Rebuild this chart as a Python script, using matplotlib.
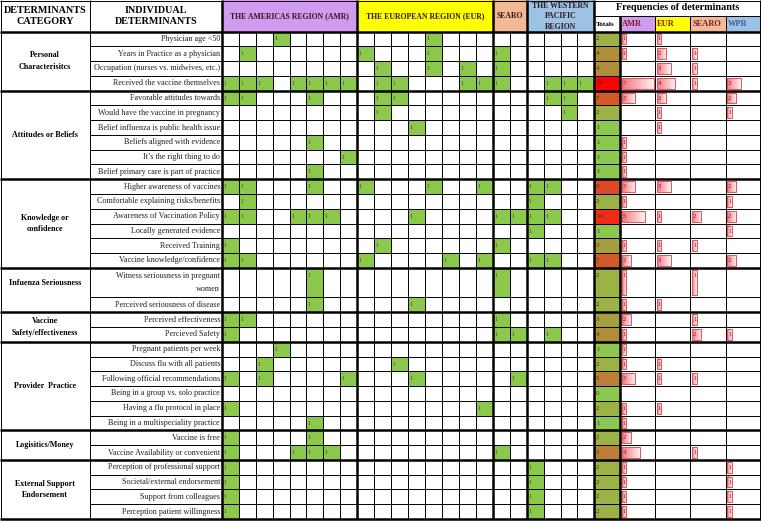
import numpy as np
import matplotlib.pyplot as plt
from matplotlib.patches import Rectangle
from matplotlib.colors import LinearSegmentedColormap

plt.rcParams['font.family'] = ['Liberation Serif', 'DejaVu Serif']

# categories and their row counts
categories = ["Personal\nCharacterisitcs", "Attitudes or Beliefs", "Knowledge or\nconfidence",
              "Infuenza Seriousness", "Vaccine\nSafety/effectiveness", "Provider  Practice",
              "Logisitics/Money", "External Support\nEndorsement"]
category_sizes = [4, 6, 6, 2, 2, 6, 2, 4]

determinants = [
    "Physician age <50", "Years in Practice as a physician", "Occupation (nurses vs. midwives, etc.)",
    "Received the vaccine themselves",
    "Favorable attitudes towards", "Would have the vaccine in pregnancy", "Belief influenza is public health issue",
    "Beliefs aligned with evidence", "It\u2019s the right thing to do", "Belief primary care is part of practice",
    "Higher awareness of vaccines", "Comfortable explaining risks/benefits", "Awareness of Vaccination Policy",
    "Locally generated evidence", "Received Training", "Vaccine knowledge/confidence",
    "Witness seriousness in pregnant\nwomen", "Perceived seriousness of disease",
    "Perceived effectiveness", "Percieved Safety",
    "Pregnant patients per week", "Discuss flu with all patients", "Following official recommendations",
    "Being in a group vs. solo practice", "Having a flu protocol in place", "Being in a multispeciality practice",
    "Vaccine is free", "Vaccine Availability or convenient",
    "Perception of professional support", "Societal/external endorsement", "Support from colleagues",
    "Perception patient willingness",
]
row_units = [1] * 16 + [2] + [1] * 15

# studies (columns, 1-based within each region) reporting each determinant
amr_hits = [[4], [2], [], [1, 2, 3, 5, 6, 7, 8],
            [1, 2, 6], [], [], [6], [8], [6],
            [1, 2, 6], [2], [1, 2, 5, 6, 7], [], [1], [1, 2],
            [6], [6], [1, 2], [1],
            [4], [3], [1, 3, 8], [], [1], [6],
            [1, 6], [1, 5, 6, 7],
            [1], [1], [1], [1]]
eur_hits = [[5], [1, 5], [2, 5, 7], [2, 3, 7, 8],
            [2, 3], [2], [4], [], [], [],
            [1, 5, 8], [], [4], [], [2], [1, 6, 8],
            [], [4], [], [],
            [], [3], [4], [], [8], [],
            [], [],
            [], [], [], []]
searo_hits = [[], [1], [1], [1],
              [], [], [], [], [], [],
              [], [], [1, 2], [], [1], [],
              [1], [], [1], [1, 2],
              [], [], [2], [], [], [],
              [], [1],
              [], [], [], []]
wpr_hits = [[], [], [], [2, 3, 4],
            [2, 3], [3], [], [], [], [],
            [1, 2], [1], [1, 2], [1], [], [1, 2],
            [], [], [], [2],
            [], [], [], [], [], [],
            [], [],
            [1], [1], [1], [1]]

regions = ["AMR", "EUR", "SEARO", "WPR"]
region_titles = ["THE AMERICAS REGION (AMR)", "THE EUROPEAN REGION (EUR)", "SEARO",
                 "THE WESTERN\nPACIFIC\nREGION"]
region_cols = [8, 8, 2, 4]
region_colors = ["#D19BEF", "#FFFF00", "#F3B894", "#9CC2E5"]
region_text = ["#7A1F2B", "#7A1F2B", "#7A1F2B", "#3F5F9A"]
all_hits = [amr_hits, eur_hits, searo_hits, wpr_hits]

freq = np.array([[len(h[i]) for h in all_hits] for i in range(len(determinants))])
totals = freq.sum(axis=1)

# layout (pixels)
W, H = 761, 523
x_cat, x_ind, x_grid = 0, 90, 222
region_edges = [222, 357, 493, 527, 594]
x_tot, x_freq = 594, 620
freq_w = 35.2
head_h, body_bottom = 31.5, 519
unit = (body_bottom - head_h) / sum(row_units)
row_edges = head_h + np.concatenate([[0], np.cumsum(row_units)]) * unit

fig = plt.figure(figsize=(W / 100, H / 100), dpi=100)
ax = fig.add_axes([0, 0, 1, 1])
ax.set_xlim(0, W)
ax.set_ylim(H, 0)
ax.axis('off')

green = "#8CC84B"
tot_cmap = LinearSegmentedColormap.from_list(
    "tot", [(0, "#8CC850"), (1 / 14, "#9CB247"), (3 / 14, "#B08C38"), (4 / 14, "#BA7E36"),
            (6 / 14, "#D25A28"), (9 / 14, "#F02D18"), (1, "#FF0000")])
bar_cmap = LinearSegmentedColormap.from_list("bar", ["#F47880", "#FFF4F4"])
grad = np.linspace(0, 1, 64).reshape(1, -1)

# header cells
ax.text(45, 16, "DETERMINANTS\nCATEGORY", ha='center', va='center', fontsize=7.3,
        fontweight='bold', linespacing=1.15)
ax.text(156, 16, "INDIVIDUAL\nDETERMINANTS", ha='center', va='center', fontsize=7.3,
        fontweight='bold', linespacing=1.15)
for r in range(4):
    x0, x1 = region_edges[r], region_edges[r + 1]
    ax.add_patch(Rectangle((x0, 0), x1 - x0, head_h, color=region_colors[r], lw=0))
    if r < 3:
        ax.text((x0 + x1) / 2, 16.5, region_titles[r], ha='center', va='center',
                fontsize=5.6, fontweight='bold', color="#3A1A1A")
    else:
        ax.text((x0 + x1) / 2, 1.5, region_titles[r], ha='center', va='top',
                fontsize=5.6, fontweight='bold', color="#3A1A1A", linespacing=1.45,
                clip_on=True)
ax.text((x_tot + W) / 2, 8, "Frequencies of determinants", ha='center', va='center',
        fontsize=7.3, fontweight='bold')
ax.text(x_tot + 2, 24, "Totals", ha='left', va='center', fontsize=5.3, fontweight='bold')
for r in range(4):
    fx = x_freq + r * freq_w
    ax.add_patch(Rectangle((fx, 16), freq_w, head_h - 16, color=region_colors[r], lw=0))
    ax.text(fx + 2, 24, regions[r], ha='left', va='center', fontsize=6,
            fontweight='bold', color=region_text[r])

# body
for i, name in enumerate(determinants):
    y0, y1 = row_edges[i], row_edges[i + 1]
    yc = (y0 + y1) / 2
    ax.text(x_grid - 2, yc, name, ha='right', va='center', fontsize=5.9, linespacing=1.9,
            color="#222222")
    for r in range(4):
        x0, x1 = region_edges[r], region_edges[r + 1]
        cw = (x1 - x0) / region_cols[r]
        for c in all_hits[r][i]:
            cx = x0 + (c - 1) * cw
            ax.add_patch(Rectangle((cx, y0), cw, y1 - y0, color=green, lw=0))
            ax.text(cx + 1.5, y0 + 7.5, "1", ha='left', va='center', fontsize=4.6,
                    color="#4A4A30")
    ax.add_patch(Rectangle((x_tot, y0), x_freq - x_tot, y1 - y0,
                           color=tot_cmap((totals[i] - 1) / 14 if totals[i] > 0 else 0), lw=0))
    ax.text(x_tot + 2, y0 + 7.5, str(totals[i]), ha='left', va='center', fontsize=5,
            color="#3A3A10")
    for r in range(4):
        v = freq[i, r]
        if v == 0:
            continue
        bx = x_freq + r * freq_w + 1.5
        bw = v * 4.6
        ax.imshow(grad, cmap=bar_cmap, extent=(bx, bx + bw, y1 - 2, y0 + 2), aspect='auto',
                  interpolation='bilinear', zorder=2)
        ax.add_patch(Rectangle((bx, y0 + 2), bw, y1 - y0 - 4, fill=False,
                               edgecolor="#E2535F", lw=0.7, zorder=3))
        ax.text(bx + 1, y0 + 7.5, str(v), ha='left', va='center', fontsize=4.8,
                color="#8A1A1A", zorder=4)

# category labels
cat_edges = np.concatenate([[0], np.cumsum(category_sizes)])
for k, cat in enumerate(categories):
    y0, y1 = row_edges[cat_edges[k]], row_edges[cat_edges[k + 1]]
    yc = (y0 + y1) / 2
    if row_units[cat_edges[k]] > 1:
        yc = (y0 + row_edges[cat_edges[k] + 1]) / 2
    ax.text(45, yc, cat, ha='center', va='center', fontsize=5.8,
            fontweight='bold', linespacing=1.55)

# grid lines
thin, thick = 0.7, 1.8
cat_rows = set(cat_edges.tolist())
for j, y in enumerate(row_edges):
    if j in cat_rows:
        ax.hlines(y, 0, W - 0.5, colors='black', lw=thick, zorder=5)
    else:
        ax.hlines(y, x_ind, W - 0.5, colors='black', lw=thin, zorder=5)
ax.hlines(0.5, 0, W - 0.5, colors='black', lw=thin, zorder=5)
ax.hlines(16, x_tot, W - 0.5, colors='black', lw=thin, zorder=5)

for r in range(4):
    x0, x1 = region_edges[r], region_edges[r + 1]
    for xc in np.linspace(x0, x1, region_cols[r] + 1)[1:-1]:
        ax.vlines(xc, head_h, body_bottom, colors='black', lw=thin, zorder=5)
for xv in [0.5, x_ind]:
    ax.vlines(xv, 0, body_bottom, colors='black', lw=thin, zorder=5)
for xv in region_edges + [x_freq]:
    ax.vlines(xv, 0 if xv != x_freq else 16, body_bottom, colors='black', lw=thick, zorder=5)
for r in range(1, 4):
    ax.vlines(x_freq + r * freq_w, 16, body_bottom, colors='black', lw=thin, zorder=5)
ax.vlines(W - 0.7, 0, body_bottom, colors='black', lw=thin, zorder=5)

fig.savefig("out.png", dpi=100)
